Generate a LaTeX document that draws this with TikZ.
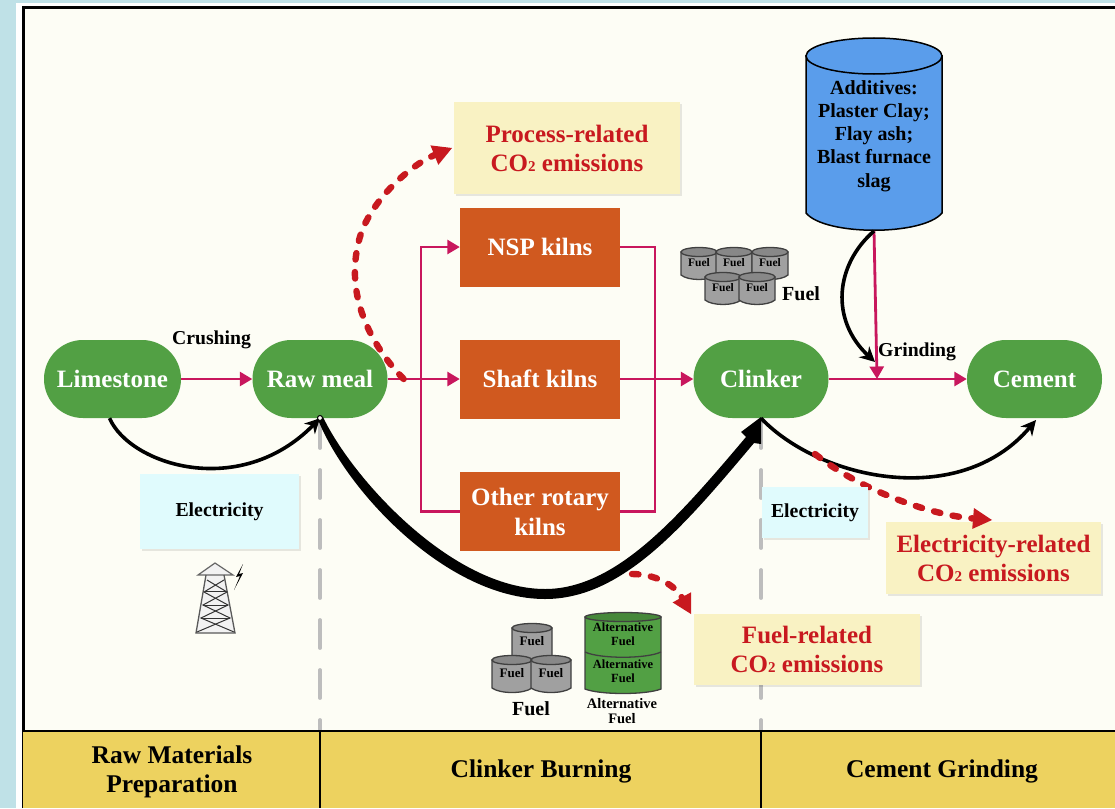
\documentclass[tikz,border=0pt]{standalone}
\usepackage{fontspec}
\setmainfont{Liberation Serif}
\usetikzlibrary{arrows.meta,calc,shadows}
\definecolor{bgblue}{HTML}{BFE1E7}
\definecolor{paper}{HTML}{FDFDF5}
\definecolor{leaf}{HTML}{52A044}
\definecolor{rust}{HTML}{D0591F}
\definecolor{pinkline}{HTML}{C8175D}
\definecolor{redtxt}{HTML}{C8191F}
\definecolor{lemon}{HTML}{F9F2C3}
\definecolor{icecyan}{HTML}{E0FBFD}
\definecolor{band}{HTML}{EDD25F}
\definecolor{sky}{HTML}{5A9DEB}
\definecolor{drum}{HTML}{A0A0A0}
\definecolor{dash}{HTML}{BDBDBD}
\newcommand{\fsz}[1]{\fontsize{#1}{#1}\selectfont}
\newcommand{\cotwo}{CO{\fontsize{15}{15}\selectfont 2}}
\tikzset{
  x=1pt,y=-1pt,
  softshade/.style={drop shadow={shadow xshift=1.5pt,shadow yshift=-1.5pt,opacity=.09,fill=black}},
  proc/.style={fill=leaf,rounded corners=38.9pt,inner sep=0pt,text=white,font=\bfseries\fsz{25},minimum height=78pt},
  kiln/.style={fill=rust,inner sep=0pt,text=white,font=\bfseries\fsz{25},minimum width=160pt,align=center},
  emit/.style={fill=lemon,softshade,inner sep=0pt,text=redtxt,font=\bfseries\fsz{25},align=center},
  power/.style={fill=icecyan,softshade,inner sep=0pt,font=\bfseries\fsz{19.8},text=black},
  stage/.style={inner sep=0pt,font=\bfseries\fsz{25.5},align=center,text=black},
  plain/.style={inner sep=0pt,font=\bfseries\fsz{19.7},text=black},
  flow/.style={draw=pinkline,line width=2.8pt},
  flowtip/.style={flow,-{Triangle[length=12.5pt,width=14pt]}},
  carry/.style={draw=black,line width=3.6pt,-{Stealth[length=15pt,width=15pt]}},
  leak/.style={draw=redtxt,line width=6.4pt,line cap=round,dash pattern=on 6.5pt off 12.5pt,-{Triangle[length=19pt,width=21pt,line width=0pt]}},
  divide/.style={draw=dash,line width=3.8pt,line cap=round,dash pattern=on 28pt off 22pt},
}
% barrel: left x, top y, width, body height, colour
\newcommand{\barrel}[5]{%
  \pgfmathsetmacro{\bR}{#1+#3}%
  \pgfmathsetmacro{\bB}{#2+#4}%
  \pgfmathsetmacro{\bBB}{#2+#4+6}%
  \pgfmathsetmacro{\bA}{#1+#3*.2}%
  \pgfmathsetmacro{\bC}{#1+#3*.8}%
  \pgfmathsetmacro{\bM}{#1+#3/2}%
  \fill[#5,draw=black!75,line width=1.3pt]
    (#1,#2) -- (#1,\bB) .. controls (\bA,\bBB) and (\bC,\bBB) .. (\bR,\bB) -- (\bR,#2) -- cycle;
  \fill[#5!85!black,draw=black!75,line width=1.3pt]
    (\bM,#2) ellipse[x radius=#3/2,y radius=4.5];
}
\begin{document}
\begin{tikzpicture}
\useasboundingbox (0,0) rectangle (1115,808);
\fill[bgblue] (0,0) rectangle (1115,808);
\fill[white] (16,3) rectangle (1115,808);
\fill[paper] (24,8) rectangle (1115,808);
\draw[black,line width=3pt] (23.5,808) -- (23.5,7.5) -- (1115,7.5);
% stage band
\fill[band] (23,731) rectangle (1115,808);
\draw[divide] (320,420) -- (320,730);
\draw[divide] (761,420) -- (761,730);
\draw[black,line width=2pt] (23,730.5) -- (1115,730.5);
\draw[black,line width=1.5pt] (320,731) -- (320,808);
\draw[black,line width=1.5pt] (761,731) -- (761,808);
\node[stage] (s1) at (172,772) {Raw Materials\\[4pt]Preparation};
\node[stage] (s2) at (541,771) {Clinker Burning};
\node[stage] (s3) at (942,771) {Cement Grinding};
% processes
\node[proc,minimum width=137pt] (lime) at (112.5,379) {Limestone};
\node[proc,minimum width=135pt] (raw) at (320,379) {Raw meal};
\node[proc,minimum width=135pt] (clink) at (761,379) {Clinker};
\node[proc,minimum width=135pt] (cem) at (1034.5,379) {Cement};
% kilns
\node[kiln,minimum height=79pt] (nsp) at (540,247) {NSP kilns};
\node[kiln,minimum height=79pt] (shaft) at (540,379) {Shaft kilns};
\node[kiln,minimum height=79pt] (other) at (540,511.5) {Other rotary\\[5pt]kilns};
% pink flows
\coordinate (fork) at (421,379);
\coordinate (join) at (655,379);
\coordinate (grind) at (877,379);
\draw[flowtip] (lime) -- (raw);
\draw[flowtip] (raw) -- (shaft);
\draw[flowtip] (fork) |- (nsp);
\draw[flow] (fork) |- (other);
\draw[flow] (nsp) -| (join);
\draw[flow] (other) -| (join);
\draw[flowtip] (shaft) -- (clink);
\draw[flowtip] (clink) -- (cem);
% additive silo
\fill[sky,draw=black,line width=1.5pt] (806,56) -- (806,213) .. controls (825,236) and (923,236) .. (942,213) -- (942,56) -- cycle;
\draw[fill=sky,draw=black,line width=1.5pt] (874,56) ellipse[x radius=68,y radius=18];
\node[inner sep=0pt,font=\bfseries\fontsize{20}{23.2}\selectfont,align=center,text=black] (silo) at (874,136) {Additives:\\Plaster Clay;\\Flay ash;\\Blast furnace\\slag};
\coordinate (silob) at (874,231);
\draw[flowtip] (silob) -- (grind);
\draw[carry] (silob) .. controls (835,265) and (830,320) .. (875,362);
\node[plain,anchor=west] (grindl) at (878,351.5) {Grinding};
\node[plain,anchor=center] (crush) at (211.5,340) {Crushing};
% black energy curves
\draw[carry] (lime.south) ++(-3,0) .. controls (130,465) and (240,500) .. (raw.south);
\draw[carry] (clink.south) .. controls (820,480) and (960,510) .. (1036,420);
\fill[black] (323,417) .. controls (352,478) and (452,589) .. (545,589)
  .. controls (617,589) and (680,515) .. (746,437)
  -- (741,432) -- (761,417) -- (761,444) -- (754,443)
  .. controls (685,525) and (623,599) .. (545,599)
  .. controls (447,599) and (345,490) .. (317,417) -- cycle;
\fill[paper,draw=black,line width=1pt] (320,418) circle[radius=2.5];
% emissions
\node[emit,minimum width=226pt,minimum height=92pt] (e1) at (567,148) {Process-related\\[4pt]\cotwo{} emissions};
\node[emit,minimum width=226pt,minimum height=71pt] (e2) at (807,649.5) {Fuel-related\\[4pt]\cotwo{} emissions};
\node[emit,minimum width=215pt,minimum height=72pt] (e3) at (993.5,558) {Electricity-related\\[4pt]\cotwo{} emissions};
\draw[leak] (raw.east) ++(16,0) .. controls (375,350) and (345,300) .. (358,245) .. controls (365,205) and (410,165) .. (452,148);
\draw[leak] (815,454) .. controls (860,490) and (930,515) .. (992,520);
\draw[leak] (632,574) .. controls (655,574) and (675,585) .. (691,614);
% electricity
\node[power,minimum width=159pt,minimum height=75pt] (el1) at (219.5,511.5) {Electricity};
\node[power,minimum width=106pt,minimum height=51pt] (el2) at (815,512.5) {Electricity};
% fuel upper cluster
\foreach \px/\py in {681/252, 716/252, 752/252, 705/277, 739/277}{
  \barrel{\px}{\py}{36}{23}{drum}
  \node[inner sep=0pt,font=\bfseries\fsz{11.5}] at (\px+18,\py+11) {Fuel};
}
\node[plain,anchor=west,font=\bfseries\fsz{20}] (fu1) at (782,294) {Fuel};
% fuel lower cluster
\foreach \px/\py in {512/628, 492/660, 531/660}{
  \barrel{\px}{\py}{40}{28}{drum}
  \node[inner sep=0pt,font=\bfseries\fsz{13}] at (\px+20,\py+13) {Fuel};
}
\node[plain,font=\bfseries\fsz{20}] (fu2) at (531,709) {Fuel};
% alternative fuel
\barrel{585}{617}{76}{72}{leaf}
\draw[black!75,line width=1.3pt] (585,652) .. controls (600,659) and (646,659) .. (661,652);
\node[inner sep=0pt,font=\bfseries\fontsize{12.5}{14}\selectfont,align=center] at (623,634) {Alternative\\Fuel};
\node[inner sep=0pt,font=\bfseries\fontsize{12.5}{14}\selectfont,align=center] at (623,671) {Alternative\\Fuel};
\node[inner sep=0pt,font=\bfseries\fontsize{14.5}{15}\selectfont,align=center] (alt) at (622,711) {Alternative\\Fuel};
% tower
\begin{scope}[draw=black!80,line width=1pt]
\fill[black!5] (215,563) -- (233,575) -- (224,575) -- (235,633) -- (196,633) -- (206,575) -- (198,575) -- cycle;
\draw[line width=1.2pt,black!60] (215,563) -- (233,575) -- (198,575) -- cycle;
\draw[line width=1.3pt,black!65] (206,575) -- (196,633) -- (235,633) -- (224,575);
\draw (207,580) -- (227,592) -- (203,605) -- (230,618) -- (197,632);
\draw (224,580) -- (204,592) -- (228,605) -- (201,618) -- (234,632);
\draw (205,591) -- (226,591) (203,605) -- (228,605) (201,618) -- (230,618);
\end{scope}
\fill[black] (243,564) -- (236,577) -- (240,576) -- (234,590) -- (243,573) -- (239,574) -- cycle;
\end{tikzpicture}
\end{document}
